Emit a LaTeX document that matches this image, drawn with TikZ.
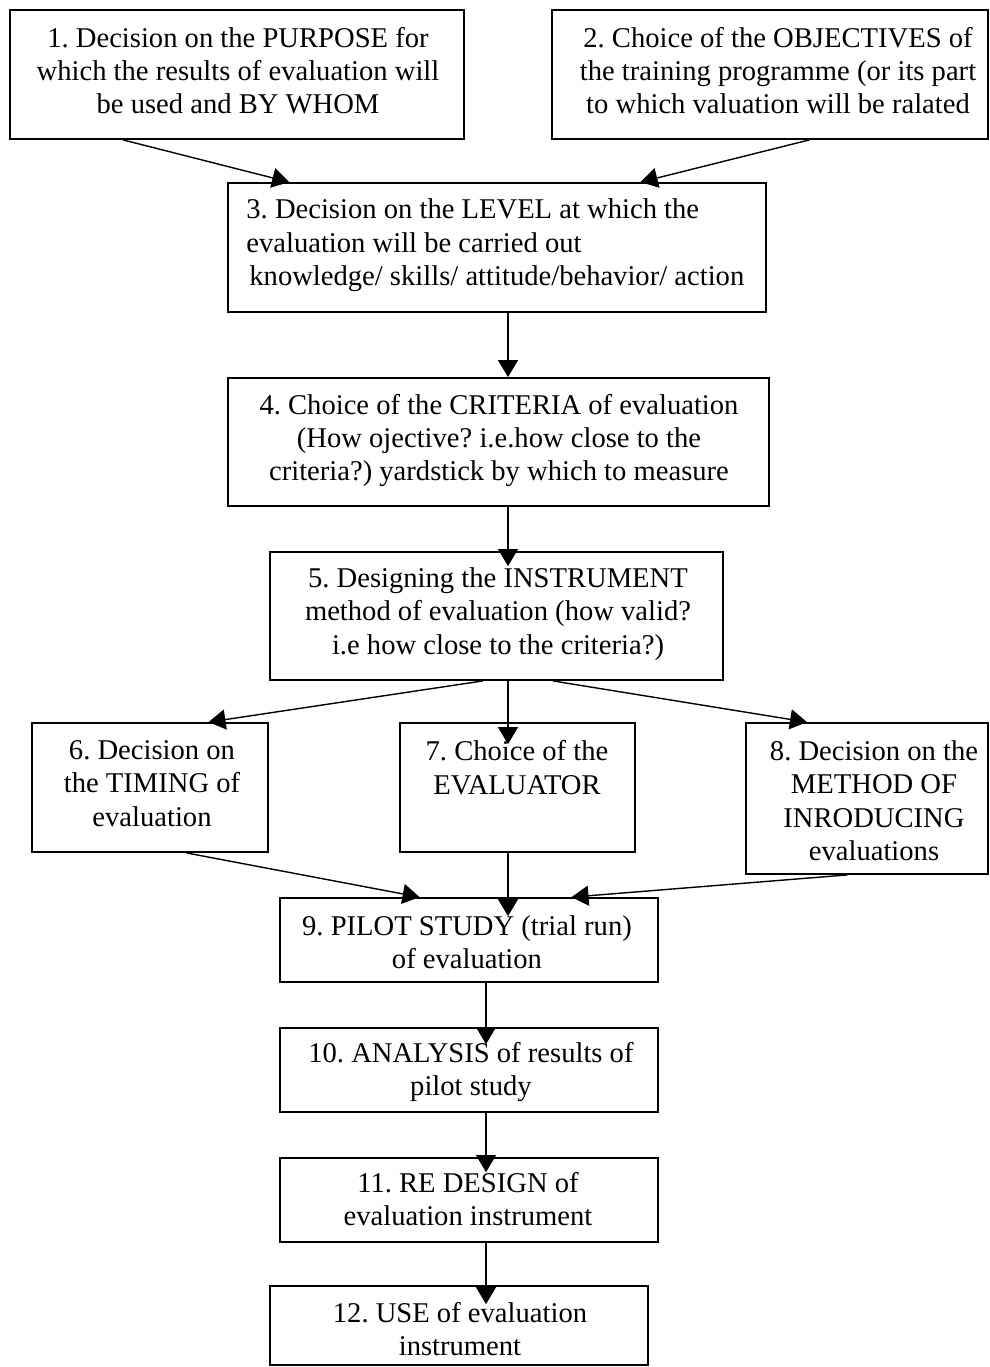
\documentclass[tikz,border=0pt]{standalone}
\usepackage{fontspec}
\setmainfont{Liberation Serif}
\usetikzlibrary{arrows.meta,calc}
\frenchspacing
\tikzset{
  evbox/.style={draw=black,line width=0.9pt,inner sep=0pt},
  evtxt/.style={anchor=north,align=center,inner sep=0pt,
                font=\fontsize{14.3}{16.6}\selectfont},
  evflow/.style={-{Triangle[length=8.5pt,width=10pt]},line width=0.7pt},
}

\begin{document}
\begin{tikzpicture}[x=0.5pt,y=0.5pt]
  \useasboundingbox (0,0) rectangle (990,-1367);
  \coordinate (s1) at (508,0);
  \coordinate (s2) at (486,0);

  % Purpose and objectives, side by side.
  \node[evbox,minimum width=227pt,minimum height=64.5pt] (A) at (237,-74.5) {};
  \node[evbox,minimum width=218pt,minimum height=64.5pt] (B) at (770,-74.5) {};
  \node[evtxt] (a) at (238,-27) {1. Decision on the PURPOSE for\\which the results of evaluation will\\be used and BY WHOM};
  \node[evtxt] (b) at (778,-27) {2. Choice of the OBJECTIVES of\\the training programme (or its part\\to which valuation will be ralated};

  % Level, criteria, instrument.
  \node[evbox,minimum width=269pt,minimum height=64.5pt] (C) at (497,-247.5) {};
  \node[evtxt,anchor=north west,align=left] (c) at (246,-198.7) {3. Decision on the LEVEL at which the\\evaluation will be carried out\\\hspace{1.5pt}knowledge/ skills/ attitude/behavior/ action};
  \node[evbox,minimum width=270.5pt,minimum height=64pt] (D) at (498.5,-442) {};
  \node[evtxt] (d) at (499,-393.7) {4. Choice of the CRITERIA of evaluation\\(How ojective? i.e.how close to the\\criteria?) yardstick by which to measure};
  \node[evbox,minimum width=226.5pt,minimum height=64pt] (E) at (496.5,-616) {};
  \node[evtxt] (e) at (498,-567.4) {5. Designing the INSTRUMENT\\method of evaluation (how valid?\\i.e how close to the criteria?)};

  % Three decisions in a row.
  \node[evbox,minimum width=118pt,minimum height=64.5pt] (F) at (150,-787.5) {};
  \node[evtxt] (f) at (152,-740.4) {6. Decision on\\the TIMING of\\evaluation};
  \node[evbox,minimum width=117.5pt,minimum height=64.5pt] (G) at (517.5,-787.5) {};
  \node[evtxt] (g) at (517,-740.4) {7. Choice of the\\EVALUATOR};
  \node[evbox,minimum width=121pt,minimum height=75.5pt] (H) at (867,-798.5) {};
  \node[evtxt] (h) at (874,-740.4) {8. Decision on the\\METHOD OF\\INRODUCING\\evaluations};

  % Pilot, analysis, redesign, use.
  \node[evbox,minimum width=189pt,minimum height=42pt] (I) at (469,-940) {};
  \node[evtxt] (i) at (467,-915.4) {9. PILOT STUDY (trial run)\\of evaluation};
  \node[evbox,minimum width=189pt,minimum height=42pt] (J) at (469,-1070) {};
  \node[evtxt] (j) at (471,-1042) {10. ANALYSIS of results of\\pilot study};
  \node[evbox,minimum width=189pt,minimum height=42pt] (K) at (469,-1200) {};
  \node[evtxt] (k) at (468,-1172) {11. RE DESIGN of\\evaluation instrument};
  \node[evbox,minimum width=189pt,minimum height=39.5pt] (L) at (459,-1325.5) {};
  \node[evtxt] (l) at (460,-1302) {12. USE of evaluation\\instrument};

  \draw[evflow] ($(A.south west)!0.25!(A.south east)$) -- ($(C.north west)!0.115!(C.north east)$);
  \draw[evflow] ($(B.south west)!0.59!(B.south east)$) -- ($(C.north west)!0.766!(C.north east)$);
  \draw[evflow] (C.south -| s1) -- (D.north -| s1);
  \draw[evflow] (D.south -| s1) -- ([yshift=-7.5pt]E.north -| s1);
  \draw[evflow] ($(E.south west)!0.47!(E.south east)$) -- ($(F.north west)!0.746!(F.north east)$);
  \draw[evflow] (E.south -| s1) -- ([yshift=-11pt]G.north -| s1);
  \draw[evflow] ($(E.south west)!0.624!(E.south east)$) -- ($(H.north west)!0.254!(H.north east)$);
  \draw[evflow] ($(F.south west)!0.653!(F.south east)$) -- ($(I.north west)!0.37!(I.north east)$);
  \draw[evflow] (G.south -| s1) -- ([yshift=-9.5pt]I.north -| s1);
  \draw[evflow] ($(H.south west)!0.42!(H.south east)$) -- ($(I.north west)!0.77!(I.north east)$);
  \draw[evflow] (I.south -| s2) -- ([yshift=-8.5pt]J.north -| s2);
  \draw[evflow] (J.south -| s2) -- ([yshift=-7.5pt]K.north -| s2);
  \draw[evflow] (K.south -| s2) -- ([yshift=-9.5pt]L.north -| s2);
\end{tikzpicture}
\end{document}
